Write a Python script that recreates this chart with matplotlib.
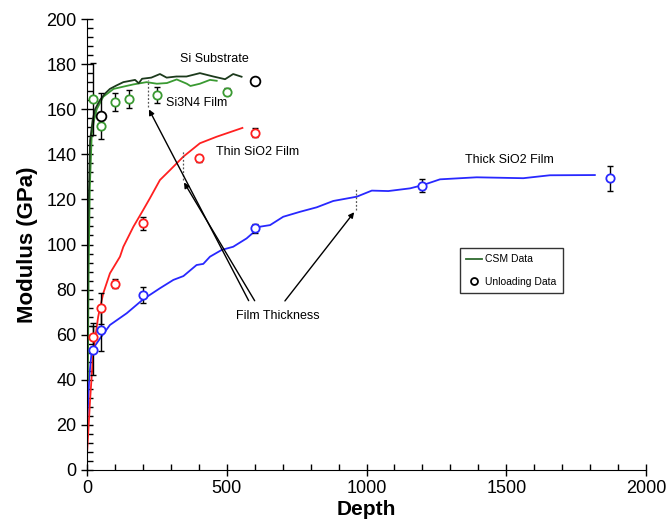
import matplotlib
matplotlib.use("Agg")
import matplotlib.pyplot as plt
from matplotlib.ticker import MultipleLocator
from matplotlib.lines import Line2D

plt.rcParams['font.family'] = ['Liberation Sans', 'DejaVu Sans']

# ---- CSM (continuous) data ----
si_depth = [1, 3, 5, 11, 20, 29, 46, 65, 82, 105, 130, 172, 185, 197, 230, 261, 285, 320, 356, 404, 452, 494, 523, 553]
si_mod = [40, 90, 112, 146, 155, 160, 164, 167, 169, 170.5, 172, 173, 171.5, 173.5, 174, 175.6, 174, 174.5, 174.5, 176, 174.5, 173.3, 175.6, 174.4]

sin_depth = [3, 6, 10, 17, 25, 35, 58, 95, 130, 166, 213, 250, 286, 321, 357, 370, 404, 440, 464]
sin_mod = [40, 90, 125, 149, 155, 160, 165.5, 169, 170, 171, 172, 171.3, 171.6, 173.2, 171.3, 170.3, 171.3, 173, 172.6]

thin_depth = [1, 11, 23, 40, 58, 82, 118, 130, 166, 201, 225, 261, 297, 345, 404, 464, 523, 556]
thin_mod = [8.9, 31, 53, 68, 78.3, 87.2, 94.6, 99, 107.9, 115.3, 120.5, 128.6, 133, 139, 144.9, 147.8, 150.3, 151.7]

thick_depth = [1, 8, 17, 47, 82, 142, 201, 261, 309, 345, 392, 416, 440, 482, 523, 571, 619, 655, 702,
               762, 822, 881, 965, 1019, 1078, 1156, 1203, 1263, 1394, 1561, 1656, 1817]
thick_mod = [20.7, 41, 53, 58.4, 64.3, 69.5, 75.7, 80.6, 84.3, 86, 90.9, 91.4, 94.6, 97.6, 99, 102.7, 107.9, 108.6, 112.3,
             114.5, 116.5, 119.3, 121.2, 123.9, 123.7, 124.9, 126.4, 128.9, 129.8, 129.4, 130.7, 130.8]

# ---- Unloading data (points with error bars) ----
si_pt_depth = [50, 600]
si_pt_mod = [157, 172.5]
si_pt_err = [10, 1.5]

sin_pt_depth = [20, 50, 100, 150, 250, 500]
sin_pt_mod = [164.7, 152.7, 163.3, 164.5, 166.3, 167.8]
sin_pt_err = [16, 0, 4, 4, 3.5, 1.5]

thin_pt_depth = [20, 50, 100, 200, 400, 600]
thin_pt_mod = [59.1, 71.7, 82.6, 109.4, 138.2, 149.6]
thin_pt_err = [6, 7, 2, 3, 1.5, 2]

thick_pt_depth = [20, 50, 200, 600, 1200, 1870]
thick_pt_mod = [53, 62, 77.6, 107.2, 126.1, 129.4]
thick_pt_err = [11, 9.3, 3.5, 2, 3, 5.5]

# film thickness markers (depth, low, high)
film_depth = [217, 342, 962]
film_low = [161, 128.6, 115.3]
film_high = [173, 141.9, 124.9]

c_si = '#1c3a1c'
c_sin = '#3a9a32'
c_thin = '#ff2020'
c_thick = '#2828ff'

fig = plt.figure(figsize=(6.71, 5.26), dpi=100)
ax = fig.add_axes([87/671, 56/526, (646-87)/671, (470-19)/526])

ax.plot(thick_depth, thick_mod, color=c_thick, lw=1.3)
ax.plot(thin_depth, thin_mod, color=c_thin, lw=1.3)
ax.plot(sin_depth, sin_mod, color=c_sin, lw=1.3)
ax.plot(si_depth, si_mod, color=c_si, lw=1.3)

def pts(d, m, e, c, ms=6):
    ax.errorbar(d, m, yerr=e, fmt='none', ecolor='black', elinewidth=1.0, capsize=2.5, capthick=1.0, zorder=3)
    ax.plot(d, m, 'o', mfc='white', mec=c, mew=1.3, ms=ms, ls='none', zorder=4)

pts(thick_pt_depth, thick_pt_mod, thick_pt_err, c_thick)
pts(thin_pt_depth, thin_pt_mod, thin_pt_err, c_thin)
pts(sin_pt_depth, sin_pt_mod, sin_pt_err, c_sin)
pts(si_pt_depth, si_pt_mod, si_pt_err, 'black', ms=7)

for d, lo, hi in zip(film_depth, film_low, film_high):
    ax.plot([d, d], [lo, hi], ls=(0, (1.5, 1.5)), color='#555555', lw=0.9)

# arrows for film thickness
tails = [(583, 74), (605, 74), (702, 74)]
for (tx, ty), d, lo in zip(tails, film_depth, film_low):
    ax.annotate('', xy=(d, lo), xytext=(tx, ty),
                arrowprops=dict(arrowstyle='-|>', color='black', lw=1.0, mutation_scale=8))
ax.text(681, 68.4, 'Film Thickness', fontsize=9, ha='center', va='center')

ax.text(333, 182.1, 'Si Substrate', fontsize=9, ha='left', va='center')
ax.text(281, 162.6, 'Si3N4 Film', fontsize=9, ha='left', va='center')
ax.text(462, 141.2, 'Thin SiO2 Film', fontsize=9, ha='left', va='center')
ax.text(1352, 137.5, 'Thick SiO2 Film', fontsize=9, ha='left', va='center')

# legend
handles = [Line2D([], [], color='#2e6a2e', lw=1.3),
           Line2D([], [], marker='o', mfc='white', mec='black', mew=1.3, ms=5, ls='none')]
leg = ax.legend(handles, ['CSM Data', 'Unloading Data'], loc='upper left',
                bbox_to_anchor=((455-87)/559, (470-243)/451), fontsize=7.5,
                frameon=True, fancybox=False, edgecolor='black', handlelength=1.5,
                handletextpad=0.3, labelspacing=1.2, borderpad=0.6)
leg.get_frame().set_linewidth(1.0)

ax.set_xlim(0, 2000)
ax.set_ylim(0, 200)
ax.spines['top'].set_visible(False)
ax.spines['right'].set_visible(False)
ax.xaxis.set_major_locator(MultipleLocator(500))
ax.xaxis.set_minor_locator(MultipleLocator(100))
ax.yaxis.set_major_locator(MultipleLocator(20))
ax.yaxis.set_minor_locator(MultipleLocator(4))
ax.tick_params(which='major', direction='inout', length=8, width=1.0, labelsize=13)
ax.tick_params(which='minor', direction='in', length=4, width=1.0)
ax.set_xlabel('Depth', fontsize=15, fontweight='bold', labelpad=2)
ax.set_ylabel('Modulus (GPa)', fontsize=16, fontweight='bold', labelpad=6)

fig.savefig('out.png', dpi=100)
